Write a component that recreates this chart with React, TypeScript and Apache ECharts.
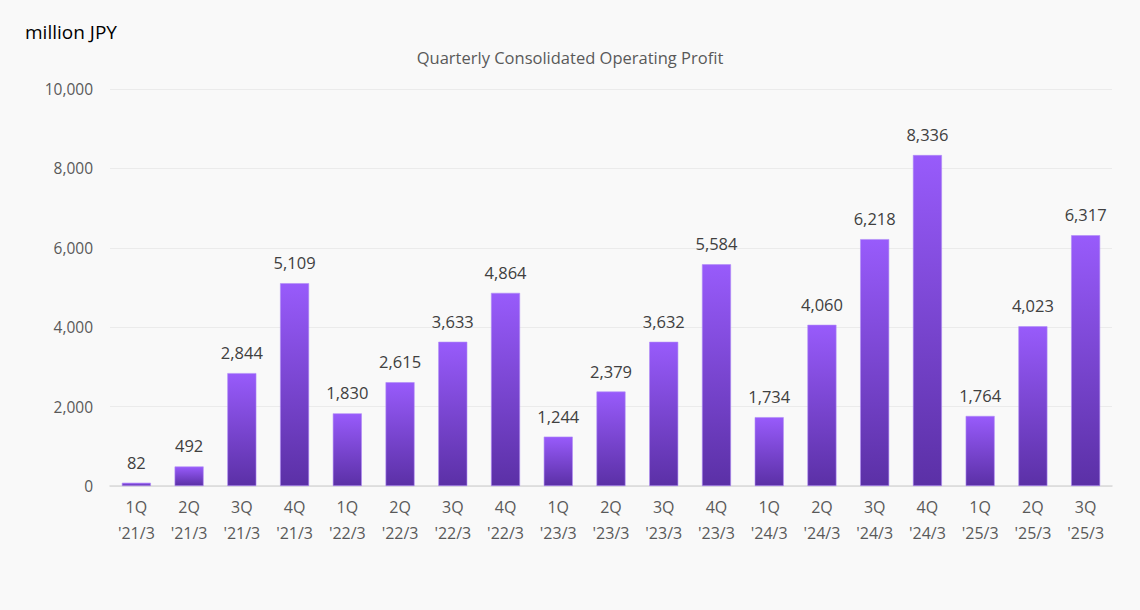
import React, { useEffect, useRef } from "react";
import * as echarts from "echarts";

const categories = [
  "1Q\n'21/3", "2Q\n'21/3", "3Q\n'21/3", "4Q\n'21/3",
  "1Q\n'22/3", "2Q\n'22/3", "3Q\n'22/3", "4Q\n'22/3",
  "1Q\n'23/3", "2Q\n'23/3", "3Q\n'23/3", "4Q\n'23/3",
  "1Q\n'24/3", "2Q\n'24/3", "3Q\n'24/3", "4Q\n'24/3",
  "1Q\n'25/3", "2Q\n'25/3", "3Q\n'25/3",
];
const operatingProfit = [
  82, 492, 2844, 5109,
  1830, 2615, 3633, 4864,
  1244, 2379, 3632, 5584,
  1734, 4060, 6218, 8336,
  1764, 4023, 6317,
];
const yTicks = { min: 0, max: 10000, interval: 2000 };
const chartTitle = "Quarterly Consolidated Operating Profit";
const unitLabel = "million JPY";

const FONT = "'Open Sans', 'Noto Sans', sans-serif";

export default function App() {
  const ref = useRef<HTMLDivElement>(null);
  useEffect(() => {
    if (!ref.current) return;
    const chart = echarts.init(ref.current, undefined, { renderer: "svg" });
    chart.setOption({
      animation: false,
      backgroundColor: "#f9f9f9",
      textStyle: { fontFamily: FONT },
      title: {
        text: chartTitle,
        left: "center",
        top: 44,
        textStyle: { fontFamily: FONT, fontSize: 16.5, fontWeight: "normal", color: "#595959" },
      },
      graphic: [
        {
          type: "text",
          left: 25,
          top: 22,
          style: { text: unitLabel, fontFamily: FONT, fontSize: 19, fill: "#000000" },
        },
      ],
      grid: { left: 110, right: 28, top: 89, bottom: 124 },
      xAxis: {
        type: "category",
        data: categories,
        axisTick: { show: false },
        axisLine: { lineStyle: { color: "#d9d9d9", width: 1.5 } },
        axisLabel: {
          interval: 0,
          color: "#595959",
          fontFamily: FONT,
          fontSize: 16,
          lineHeight: 26,
          margin: 8,
        },
      },
      yAxis: {
        type: "value",
        min: yTicks.min,
        max: yTicks.max,
        interval: yTicks.interval,
        axisLine: { show: false },
        axisTick: { show: false },
        splitLine: { lineStyle: { color: "#ebebeb" } },
        axisLabel: {
          color: "#595959",
          fontFamily: FONT,
          fontSize: 15.5,
          margin: 17,
          formatter: (v: number) => v.toLocaleString("en-US"),
        },
      },
      series: [
        {
          type: "bar",
          data: operatingProfit,
          barWidth: 29,
          itemStyle: {
            color: new echarts.graphic.LinearGradient(0, 0, 0, 1, [
              { offset: 0, color: "#985bfb" },
              { offset: 1, color: "#5b30a6" },
            ]),
            borderColor: "#b08cf7",
            borderWidth: 0.6,
          },
          label: {
            show: true,
            position: "top",
            distance: 12,
            color: "#404040",
            fontFamily: FONT,
            fontSize: 16.5,
            formatter: (p: any) => Number(p.value).toLocaleString("en-US"),
          },
        },
      ],
    });
    return () => chart.dispose();
  }, []);
  return (
    <div
      ref={ref}
      style={{ position: "fixed", left: 0, top: 0, width: 1140, height: 610 }}
    />
  );
}
